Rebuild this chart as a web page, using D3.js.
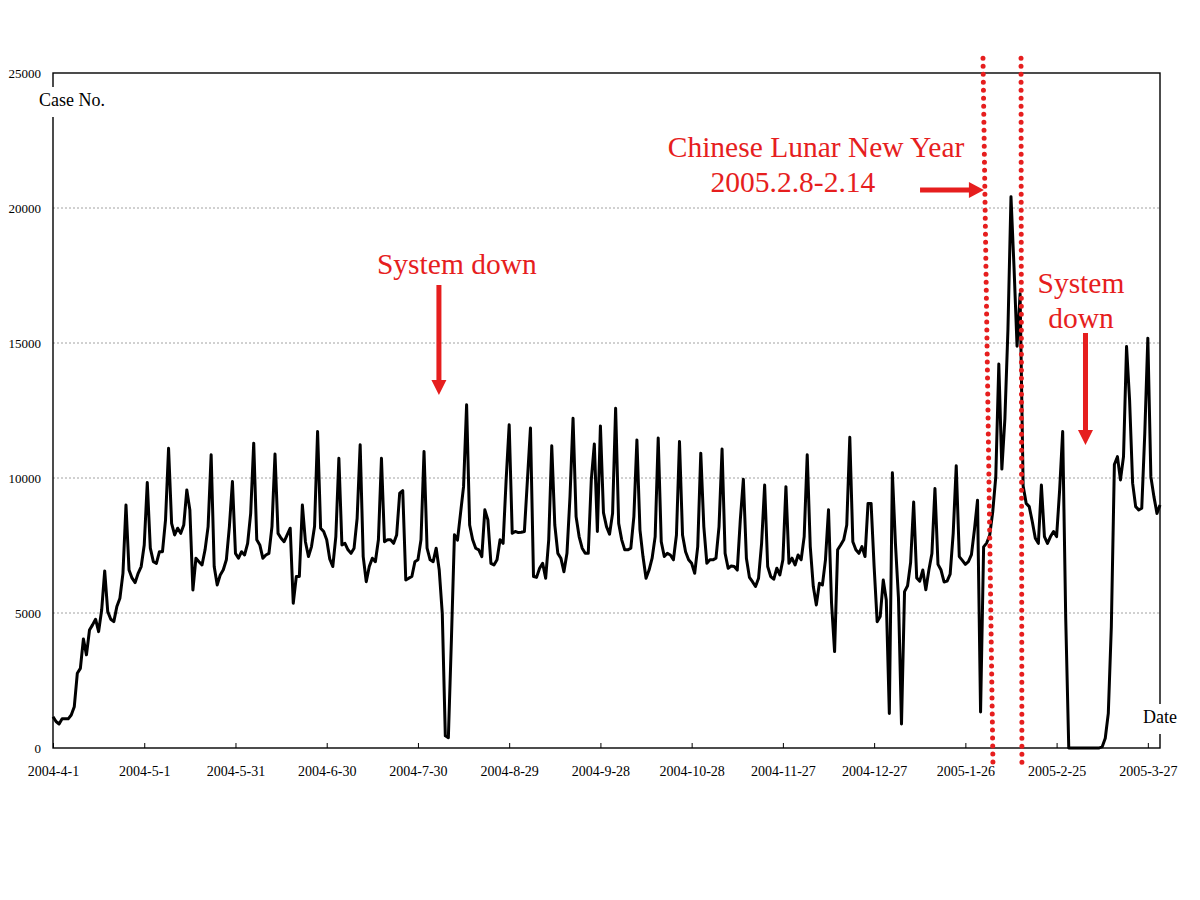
<!DOCTYPE html>
<html>
<head>
<meta charset="utf-8">
<script src="https://cdn.jsdelivr.net/npm/d3@7/dist/d3.min.js"></script>
<style>
  body { margin: 0; background: #fff; }
  svg text { font-family: "Liberation Serif", "Times New Roman", serif; }
</style>
</head>
<body>
<svg id="chart" width="1200" height="900"></svg>
<script>
// daily case numbers, 2004-4-1 .. 2005-3-31 (one row = one week, starting Thursday)
var caseCounts = [
  1160, 980, 890, 1080, 1080, 1080, 1220,
  1530, 2770, 2950, 4040, 3450, 4370, 4560,
  4770, 4310, 5110, 6560, 5050, 4770, 4680,
  5240, 5545, 6470, 9000, 6590, 6290, 6125,
  6470, 6720, 7520, 9830, 7400, 6900, 6840,
  7270, 7270, 8450, 11100, 8320, 7890, 8140,
  7950, 8260, 9560, 8820, 5850, 7030, 6900,
  6780, 7340, 8200, 10860, 6720, 6040, 6410,
  6600, 6970, 8200, 9870, 7210, 7030, 7270,
  7150, 7580, 8690, 11290, 7710, 7520, 7030,
  7150, 7210, 8200, 10890, 7950, 7770, 7640,
  7890, 8140, 5360, 6350, 6350, 9000, 7640,
  7090, 7460, 8200, 11720, 8140, 8020, 7710,
  7000, 6720, 7830, 10730, 7520, 7580, 7340,
  7210, 7400, 8500, 11230, 7090, 6160, 6720,
  7030, 6900, 7710, 10730, 7640, 7710, 7710,
  7580, 7890, 9440, 9530, 6220, 6290, 6350,
  6900, 6970, 7710, 10980, 7400, 6970, 6900,
  7400, 6590, 4990, 450, 380, 4000, 7900,
  7700, 8690, 9680, 12710, 8260, 7710, 7400,
  7340, 7090, 8820, 8450, 6840, 6780, 6970,
  7710, 7580, 9930, 11970, 7950, 8020, 7980,
  7990, 8020, 9930, 11850, 6350, 6320, 6660,
  6840, 6290, 7710, 11190, 8260, 7210, 7030,
  6530, 7210, 9310, 12210, 8570, 7830, 7400,
  7210, 7210, 9930, 11260, 8020, 11930, 8720,
  8200, 7920, 8690, 12580, 8320, 7710, 7340,
  7340, 7400, 8570, 11410, 8080, 7090, 6290,
  6590, 7030, 7830, 11480, 7640, 7090, 7210,
  7150, 6970, 7890, 11350, 7890, 7270, 6970,
  6840, 6470, 7460, 10920, 8200, 6840, 6970,
  6970, 7030, 8200, 11070, 7210, 6660, 6740,
  6720, 6590, 8450, 9950, 7030, 6320, 6160,
  5980, 6290, 7580, 9740, 6720, 6350, 6250,
  6660, 6410, 6970, 9680, 6840, 7030, 6780,
  7150, 6970, 7830, 10860, 7460, 5980, 5300,
  6100, 6040, 6970, 8820, 5360, 3570, 7340,
  7520, 7710, 8260, 11510, 7640, 7340, 7210,
  7460, 7090, 9060, 9060, 6720, 4680, 4870,
  6220, 5480, 1280, 10190, 7590, 5570, 890,
  5790, 6010, 6870, 9110, 6300, 6180, 6590,
  5860, 6590, 7200, 9610, 6800, 6590, 6150,
  6180, 6440, 7950, 10450, 7090, 6950, 6800,
  6900, 7160, 8100, 9180, 1330, 7450, 7590,
  7880, 8750, 10040, 14220, 10330, 12200, 15500,
  20420, 17800, 14880, 16820, 9700, 9060, 8940,
  8390, 7770, 7580, 9740, 7830, 7580, 7830,
  8020, 7830, 9560, 11720, 4800, 0, 0,
  0, 0, 0, 0, 0, 0, 0,
  0, 0, 50, 360, 1280, 4500, 10500,
  10790, 9930, 10790, 14870, 12890, 9810, 8940,
  8820, 8880, 11660, 15180, 10050, 9310, 8690,
  9000
];

// x axis: a label every 30 days
var tickDays = [0, 30, 60, 90, 120, 150, 180, 210, 240, 270, 300, 330, 360];
var tickLabels = ["2004-4-1", "2004-5-1", "2004-5-31", "2004-6-30", "2004-7-30", "2004-8-29",
                  "2004-9-28", "2004-10-28", "2004-11-27", "2004-12-27", "2005-1-26",
                  "2005-2-25", "2005-3-27"];
var yTicks = [0, 5000, 10000, 15000, 20000, 25000];
var gridValues = [5000, 10000, 15000, 20000];

var margins = {left: 53, top: 73, right: 40, bottom: 152};
var outerWidth = 1200, outerHeight = 900;
var innerWidth = outerWidth - margins.left - margins.right,
    innerHeight = outerHeight - margins.top - margins.bottom;

var red = "#e61e1e";
var svg = d3.select("svg#chart");

var xScale = d3.scaleLinear().domain([0, caseCounts.length - 1]).range([margins.left, margins.left + innerWidth]),
    yScale = d3.scaleLinear().domain([0, 25000]).range([margins.top + innerHeight, margins.top]);

// dotted grid lines
svg.append("g")
    .selectAll("line")
    .data(gridValues)
    .join("line")
    .attr("x1", xScale(0))
    .attr("x2", xScale(caseCounts.length - 1))
    .attr("y1", function(d) { return yScale(d); })
    .attr("y2", function(d) { return yScale(d); })
    .attr("stroke", "#8a8a8a")
    .attr("stroke-width", 0.8)
    .attr("stroke-dasharray", "2,2");

// plot frame
svg.append("rect")
    .attr("x", margins.left)
    .attr("y", margins.top)
    .attr("width", innerWidth)
    .attr("height", innerHeight)
    .attr("fill", "none")
    .attr("stroke", "#000")
    .attr("stroke-width", 1.4);

// x axis
svg.append("g")
    .attr("transform", "translate(0," + yScale(0) + ")")
    .call(d3.axisBottom(xScale)
        .tickValues(tickDays)
        .tickFormat(function(d, i) { return tickLabels[i]; })
        .tickSizeInner(-5)
        .tickSizeOuter(0)
        .tickPadding(18))
    .call(function(g) { g.select(".domain").remove(); })
    .attr("font-family", "Liberation Serif, serif")
    .attr("font-size", 14);

// y axis
svg.append("g")
    .attr("transform", "translate(" + margins.left + ",0)")
    .call(d3.axisLeft(yScale)
        .tickValues(yTicks)
        .tickSize(0)
        .tickPadding(12)
        .tickFormat(d3.format("d")))
    .call(function(g) { g.select(".domain").remove(); })
    .attr("font-family", "Liberation Serif, serif")
    .attr("font-size", 13);

// the series
var line = d3.line()
    .x(function(d, i) { return xScale(i); })
    .y(function(d) { return yScale(d); });

svg.append("path")
    .datum(caseCounts)
    .attr("d", line)
    .attr("fill", "none")
    .attr("stroke", "#000")
    .attr("stroke-width", 3)
    .attr("stroke-linejoin", "round");

// axis titles sit in white boxes over the frame
svg.append("rect").attr("x", 37).attr("y", 87).attr("width", 72).attr("height", 30).attr("fill", "#fff");
svg.append("text").attr("x", 39).attr("y", 106).attr("font-size", 18).text("Case No.");

svg.append("rect").attr("x", 1141).attr("y", 704).attr("width", 40).attr("height", 30).attr("fill", "#fff");
svg.append("text").attr("x", 1143).attr("y", 723).attr("font-size", 18).text("Date");

// red annotations
function arrowDown(cx, yTop, yTip) {
    return "M" + (cx - 2.5) + "," + yTop + "L" + (cx + 2.5) + "," + yTop +
        "L" + (cx + 2.5) + "," + (yTip - 15) + "L" + (cx + 7.5) + "," + (yTip - 15) +
        "L" + cx + "," + yTip + "L" + (cx - 7.5) + "," + (yTip - 15) +
        "L" + (cx - 2.5) + "," + (yTip - 15) + "Z";
}
function arrowRight(xStart, xTip, cy) {
    return "M" + xStart + "," + (cy - 2.5) + "L" + (xTip - 15) + "," + (cy - 2.5) +
        "L" + (xTip - 15) + "," + (cy - 8) + "L" + xTip + "," + cy +
        "L" + (xTip - 15) + "," + (cy + 8) + "L" + (xTip - 15) + "," + (cy + 2.5) +
        "L" + xStart + "," + (cy + 2.5) + "Z";
}

var notes = svg.append("g").attr("fill", red).attr("font-size", 29.5).attr("text-anchor", "middle");

notes.append("text").attr("x", xScale(132.8)).attr("y", yScale(17555)).text("System down");
notes.append("path").attr("d", arrowDown(xScale(126.9), yScale(17150), yScale(13070)));

notes.append("text").attr("x", xScale(250.9)).attr("y", yScale(21890)).text("Chinese Lunar New Year");
notes.append("text").attr("x", xScale(243.3)).attr("y", yScale(20590)).text("2005.2.8-2.14");
notes.append("path").attr("d", arrowRight(xScale(285.1), xScale(306.1), yScale(20670)));

notes.append("text").attr("x", xScale(338)).attr("y", yScale(16850)).text("System");
notes.append("text").attr("x", xScale(338)).attr("y", yScale(15560)).text("down");
notes.append("path").attr("d", arrowDown(xScale(339.5), yScale(15370), yScale(11220)));

// dotted bounds of the lunar new year week
var bounds = [[305.8, 309.1], [318.3, 318.6]];
svg.append("g")
    .selectAll("line")
    .data(bounds)
    .join("line")
    .attr("x1", function(d) { return xScale(d[0]); })
    .attr("x2", function(d) { return xScale(d[1]); })
    .attr("y1", yScale(25550))
    .attr("y2", yScale(-815))
    .attr("stroke", red)
    .attr("stroke-width", 5)
    .attr("stroke-linecap", "round")
    .attr("stroke-dasharray", "0,8");
</script>
</body>
</html>
